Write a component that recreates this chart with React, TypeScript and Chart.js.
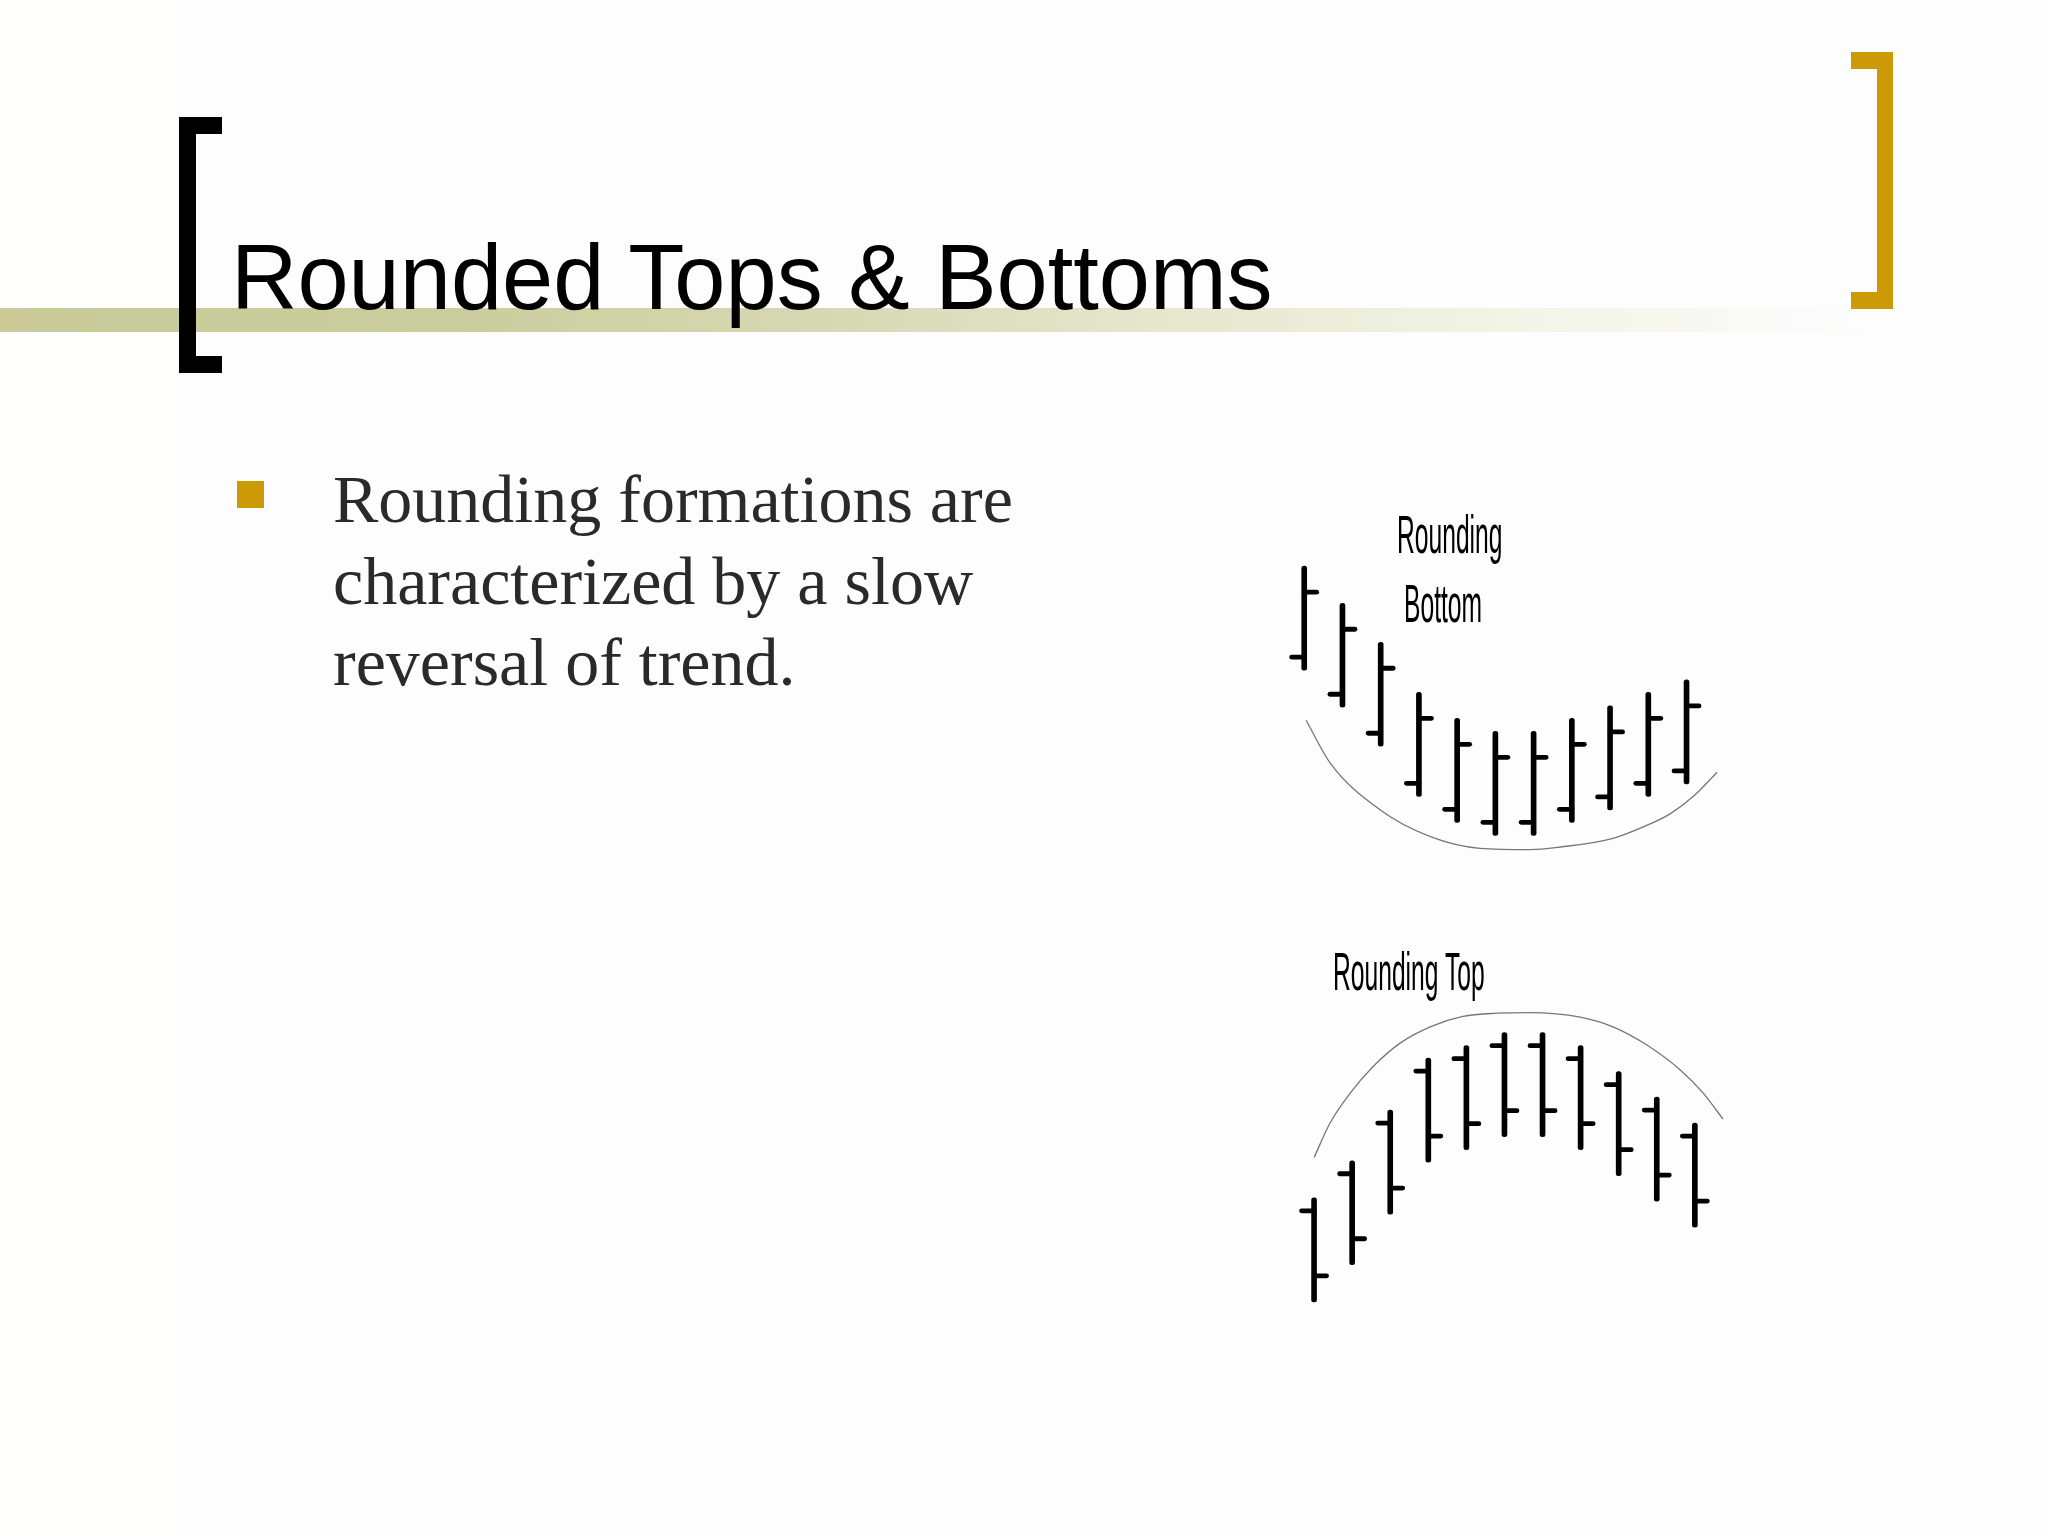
import React, { useEffect, useRef } from "react";
import { Chart, registerables } from "chart.js";

Chart.register(...registerables);

// ---- Data ----
const SESSIONS = [0, 1, 2, 3, 4, 5, 6, 7, 8, 9, 10];

// Rounding bottom
const BOTTOM_HIGH = [45.2, 39.5, 33.5, 25.8, 21.8, 19.8, 19.8, 21.8, 23.7, 25.8, 27.7];
const BOTTOM_LOW = [29.2, 23.5, 17.5, 9.8, 5.8, 3.8, 3.8, 5.8, 7.7, 9.8, 11.7];
const BOTTOM_LEFT_TICK = [31.2, 25.5, 19.5, 11.8, 7.8, 5.8, 5.8, 7.8, 9.7, 11.8, 13.7];
const BOTTOM_RIGHT_TICK = [41.2, 35.5, 29.5, 21.8, 17.8, 15.8, 15.8, 17.8, 19.7, 21.8, 23.7];
const BOTTOM_CURVE_X = [0.05, 0.68, 1.99, 3.3, 4.6, 5.91, 6.7, 8.0, 8.87, 9.57, 10.18, 10.8];
const BOTTOM_CURVE_Y = [21.5, 14.9, 7.7, 3.6, 1.8, 1.6, 2.0, 3.2, 5.1, 7.1, 9.8, 13.5];

// Rounding top
const TOP_HIGH = [18.8, 24.5, 32.3, 40.3, 42.2, 44.2, 44.2, 42.2, 38.2, 34.3, 30.3];
const TOP_LOW = [2.8, 8.5, 16.3, 24.3, 26.2, 28.2, 28.2, 26.2, 22.2, 18.3, 14.3];
const TOP_LEFT_TICK = [16.8, 22.5, 30.3, 38.3, 40.2, 42.2, 42.2, 40.2, 36.2, 32.3, 28.3];
const TOP_RIGHT_TICK = [6.8, 12.5, 20.3, 28.3, 30.2, 32.2, 32.2, 30.2, 26.2, 22.3, 18.3];
const TOP_CURVE_X = [0, 0.42, 0.95, 1.55, 2.26, 3.05, 3.91, 4.81, 5.67, 6.99, 7.85, 8.74, 9.61, 10.22, 10.74];
const TOP_CURVE_Y = [25.0, 30.3, 34.9, 39.0, 42.6, 45.1, 46.7, 47.2, 47.3, 46.6, 45.1, 42.3, 38.5, 34.9, 30.9];

const BODY_LINES = ["Rounding formations are", "characterized by a slow", "reversal of trend."];

type OhlcProps = {
  high: number[];
  low: number[];
  leftTick: number[];
  rightTick: number[];
  curveX: number[];
  curveY: number[];
  left: number;
  top: number;
  width: number;
  height: number;
};

function OhlcChart(props: OhlcProps) {
  const ref = useRef<HTMLCanvasElement | null>(null);
  useEffect(() => {
    if (!ref.current) return;
    const { high, low, leftTick, rightTick, curveX, curveY } = props;
    const tickPlugin = {
      id: "ohlcTicks",
      afterDatasetsDraw(chart: any) {
        const { ctx } = chart;
        const xs = chart.scales.x;
        const ys = chart.scales.y;
        ctx.save();
        ctx.strokeStyle = "#000";
        ctx.lineWidth = 4.8;
        ctx.lineCap = "round";
        SESSIONS.forEach((s, i) => {
          const px = xs.getPixelForValue(s);
          const yl = ys.getPixelForValue(leftTick[i]);
          ctx.beginPath();
          ctx.moveTo(px - 12.5, yl);
          ctx.lineTo(px, yl);
          ctx.stroke();
          const yr = ys.getPixelForValue(rightTick[i]);
          ctx.beginPath();
          ctx.moveTo(px, yr);
          ctx.lineTo(px + 12.5, yr);
          ctx.stroke();
        });
        ctx.restore();
      },
    };
    const chart = new Chart(ref.current, {
      type: "bar",
      data: {
        datasets: [
          {
            type: "bar",
            data: SESSIONS.map((x, i) => ({ x, y: [low[i], high[i]] })) as any,
            backgroundColor: "#000",
            borderWidth: 0,
            barThickness: 5,
            borderRadius: 2.5,
            borderSkipped: false,
            order: 2,
          } as any,
          {
            type: "line",
            data: curveX.map((x, i) => ({ x, y: curveY[i] })) as any,
            borderColor: "#777777",
            borderWidth: 1.3,
            pointRadius: 0,
            cubicInterpolationMode: "monotone",
            fill: false,
            clip: false,
            order: 1,
          } as any,
        ],
      },
      options: {
        animation: false,
        responsive: false,
        maintainAspectRatio: false,
        events: [],
        layout: { padding: 0 },
        plugins: {
          legend: { display: false },
          tooltip: { enabled: false },
          title: { display: false },
        },
        scales: {
          x: { type: "linear", min: -1, max: 12, display: false, offset: false },
          y: { type: "linear", min: 0, max: 50, display: false },
        },
      } as any,
      plugins: [tickPlugin],
    });
    return () => chart.destroy();
  }, []);
  return (
    <canvas
      ref={ref}
      width={props.width}
      height={props.height}
      style={{
        position: "absolute",
        left: props.left,
        top: props.top,
        width: props.width,
        height: props.height,
      }}
    />
  );
}

const narrowLabel = (text: string, left: number, top: number) => (
  <div
    style={{
      position: "absolute",
      left,
      top,
      fontFamily: "'Liberation Sans', Arial, sans-serif",
      fontSize: 53,
      lineHeight: 1,
      color: "#000",
      whiteSpace: "pre",
      transform: "scaleX(0.465)",
      transformOrigin: "left top",
    }}
  >
    {text}
  </div>
);

export default function App() {
  return (
    <div
      style={{
        position: "absolute",
        left: 0,
        top: 0,
        width: 2048,
        height: 1536,
        background: "#fdfdfe",
        overflow: "hidden",
      }}
    >
      {/* left strip */}
      <div style={{ position: "absolute", left: 0, top: 0, width: 176, height: 1536, background: "#fffffd" }} />
      {/* gradient band */}
      <div
        style={{
          position: "absolute",
          left: 0,
          top: 308,
          width: 1880,
          height: 24,
          background:
            "linear-gradient(to right, #c9ca98 0%, #cccd9e 25%, #d8d9b4 45%, #e6e7cd 62%, #f3f3e6 80%, rgba(253,253,252,0) 100%)",
        }}
      />
      {/* black bracket */}
      <div style={{ position: "absolute", left: 179, top: 117, width: 17, height: 256, background: "#000" }} />
      <div style={{ position: "absolute", left: 179, top: 117, width: 43, height: 17, background: "#000" }} />
      <div style={{ position: "absolute", left: 179, top: 356, width: 43, height: 17, background: "#000" }} />
      {/* gold bracket */}
      <div style={{ position: "absolute", left: 1877, top: 52, width: 16, height: 257, background: "#cc9a06" }} />
      <div style={{ position: "absolute", left: 1851, top: 52, width: 42, height: 17, background: "#cc9a06" }} />
      <div style={{ position: "absolute", left: 1851, top: 292, width: 42, height: 17, background: "#cc9a06" }} />
      {/* title */}
      <div
        style={{
          position: "absolute",
          left: 231,
          top: 231,
          fontFamily: "'Liberation Sans', Arial, sans-serif",
          fontSize: 92,
          lineHeight: 1,
          color: "#000",
          whiteSpace: "pre",
        }}
      >
        Rounded Tops &amp; Bottoms
      </div>
      {/* bullet */}
      <div style={{ position: "absolute", left: 237, top: 481, width: 27, height: 27, background: "#cc9a06" }} />
      <div
        style={{
          position: "absolute",
          left: 333,
          top: 459,
          fontFamily: "'Liberation Serif', 'Times New Roman', serif",
          fontSize: 68,
          lineHeight: "81.5px",
          color: "#2a2a2a",
          whiteSpace: "pre",
        }}
      >
        {BODY_LINES.join("\n")}
      </div>
      {/* charts */}
      <OhlcChart
        high={BOTTOM_HIGH}
        low={BOTTOM_LOW}
        leftTick={BOTTOM_LEFT_TICK}
        rightTick={BOTTOM_RIGHT_TICK}
        curveX={BOTTOM_CURVE_X}
        curveY={BOTTOM_CURVE_Y}
        left={1266}
        top={535}
        width={497}
        height={325}
      />
      <OhlcChart
        high={TOP_HIGH}
        low={TOP_LOW}
        leftTick={TOP_LEFT_TICK}
        rightTick={TOP_RIGHT_TICK}
        curveX={TOP_CURVE_X}
        curveY={TOP_CURVE_Y}
        left={1276}
        top={995}
        width={495}
        height={325}
      />
      {narrowLabel("Rounding", 1397, 508)}
      {narrowLabel("Bottom", 1404, 577)}
      {narrowLabel("Rounding Top", 1333, 945)}
    </div>
  );
}
